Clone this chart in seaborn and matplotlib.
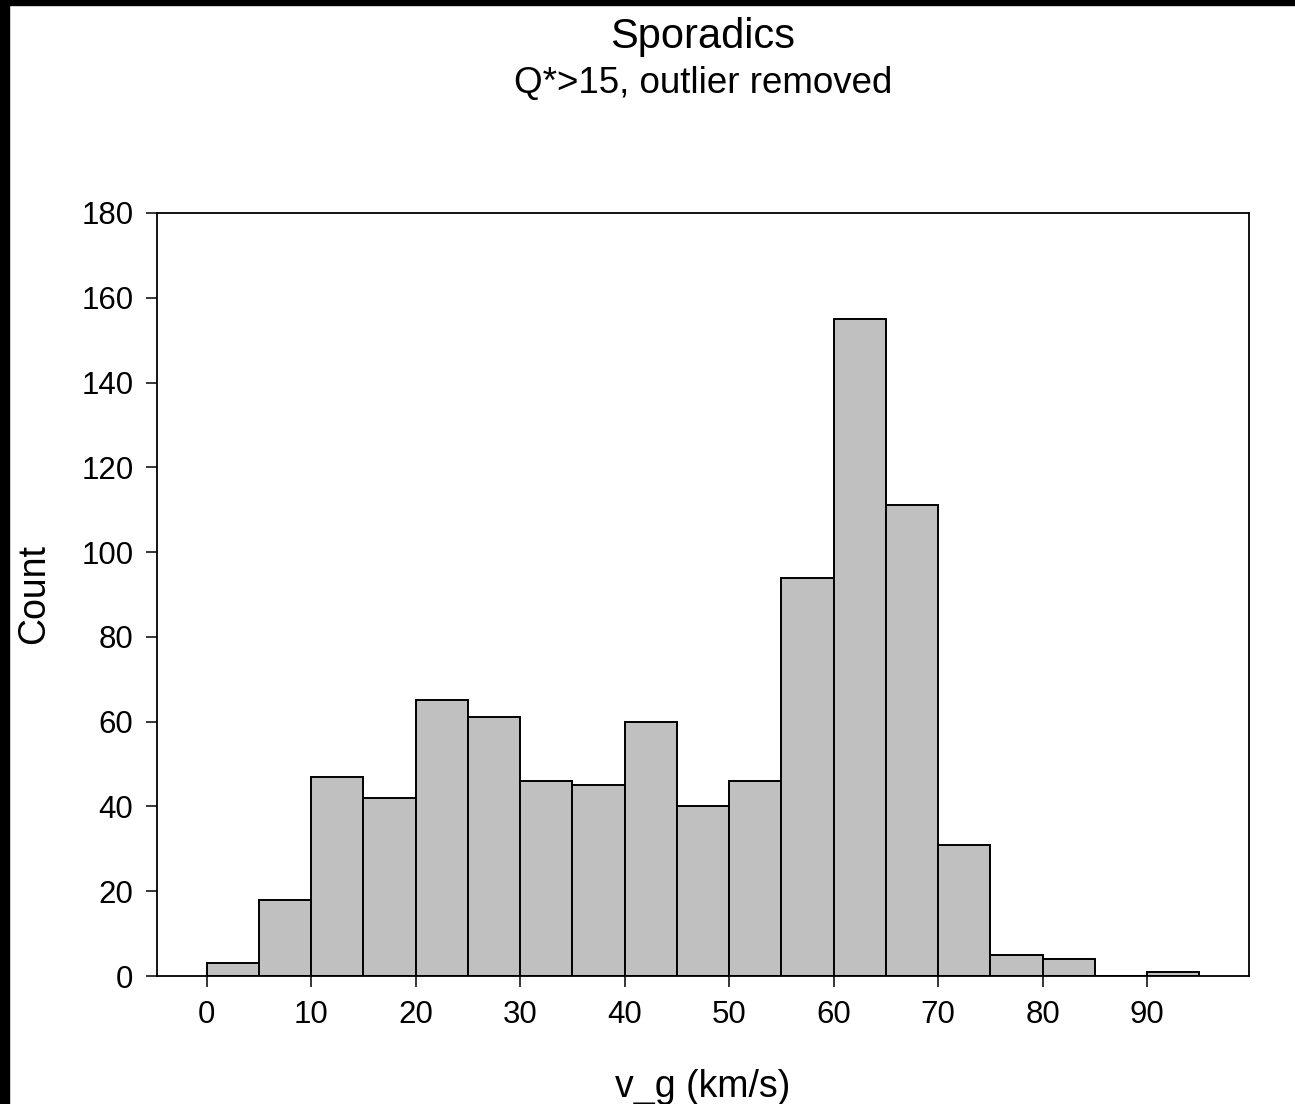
import numpy as np
import pandas as pd
import matplotlib
matplotlib.use("Agg")
import matplotlib.pyplot as plt
import seaborn as sns
from matplotlib.patches import Rectangle

bin_left = [0, 5, 10, 15, 20, 25, 30, 35, 40, 45, 50, 55, 60, 65, 70, 75, 80, 85, 90]
counts = [3, 18, 47, 42, 65, 61, 46, 45, 60, 40, 46, 94, 155, 111, 31, 5, 4, 0, 1]
x_ticks = [0, 10, 20, 30, 40, 50, 60, 70, 80, 90]
y_ticks = [0, 20, 40, 60, 80, 100, 120, 140, 160, 180]

sns.set_theme(style="ticks")
plt.rcParams['font.family'] = ['Liberation Sans', 'DejaVu Sans']
plt.rcParams['text.color'] = 'black'
plt.rcParams['xtick.color'] = 'black'
plt.rcParams['ytick.color'] = 'black'
plt.rcParams['xtick.labelcolor'] = 'black'
plt.rcParams['ytick.labelcolor'] = 'black'

df = pd.DataFrame({"v_g": np.array(bin_left) + 2.5, "n": counts})

fig = plt.figure(figsize=(12.95, 11.04), dpi=100)
ax = fig.add_axes([157/1295, 1 - 976/1104, (1249-157)/1295, (976-213)/1104])
sns.histplot(data=df, x="v_g", weights="n", binwidth=5, binrange=(0, 95),
             color="#c0c0c0", edgecolor="black", linewidth=1.4, alpha=1, ax=ax)

ax.set_xlim(-4.75, 99.75)
ax.set_ylim(0, 180)
ax.set_xticks(x_ticks)
ax.set_yticks(y_ticks)
ax.tick_params(axis='both', labelsize=22.5, length=8, width=1.1, colors='black', pad=9)
for s in ax.spines.values():
    s.set_linewidth(1.3)
    s.set_color('black')
ax.set_xlabel("")
ax.set_ylabel("")

fig.text(703/1295, 1 - 48/1104, "Sporadics", ha='center', va='baseline', fontsize=30)
fig.text(703/1295, 1 - 93/1104, "Q*>15, outlier removed", ha='center', va='baseline', fontsize=26.5)
fig.text(34/1295, 1 - 594/1104, "Count", ha='center', va='center', fontsize=27, rotation=90)
fig.text(703/1295, 1 - 1097/1104, "v_g (km/s)", ha='center', va='baseline', fontsize=27)

fig.patches.append(Rectangle((0, 0), 9/1295, 1, transform=fig.transFigure, color='black', zorder=10))
fig.patches.append(Rectangle((0, 1 - 5/1104), 1, 5/1104, transform=fig.transFigure, color='black', zorder=10))

fig.savefig("out.png", dpi=100, facecolor='white')
